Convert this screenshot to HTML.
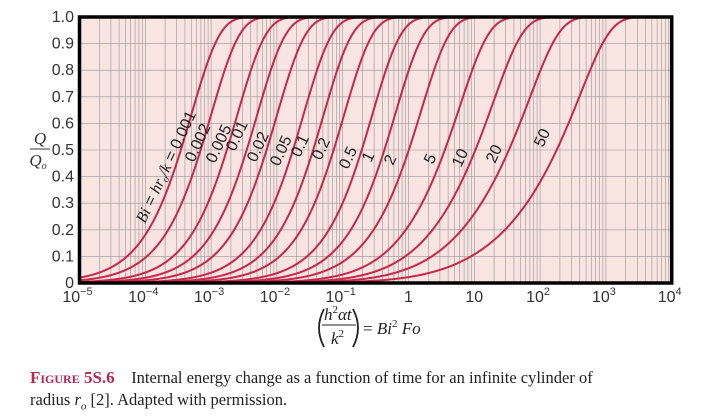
<!DOCTYPE html>
<html><head><meta charset="utf-8"><style>
body{margin:0;background:#fff;width:706px;height:419px;overflow:hidden;position:relative;font-family:"Liberation Serif",serif;}
.cap{position:absolute;left:30px;font-size:16.5px;color:#222;white-space:nowrap;}
.fig{color:#b8274f;font-weight:bold;font-variant:small-caps;font-size:17px;}
</style></head><body>
<svg id="s" width="706" height="419" style="position:absolute;left:0;top:0" xmlns="http://www.w3.org/2000/svg">
<defs><clipPath id="c"><rect x="79.5" y="17" width="592.2" height="266"/></clipPath></defs>
<rect x="79.5" y="17" width="592.2" height="266" fill="#f8e4e1"/>
<g id="grid" stroke="#9c9696" stroke-width="0.6"></g>
<g id="curves" clip-path="url(#c)" fill="none" stroke="#c8264c" stroke-width="2"></g>
<rect x="79.5" y="17" width="592.2" height="266" fill="none" stroke="#000" stroke-width="3.5"/>
<g id="ylab" font-family="Liberation Sans,sans-serif" font-size="16" fill="#333" text-anchor="end"></g>
<g id="xlab" font-family="Liberation Sans,sans-serif" font-size="16" fill="#333" text-anchor="middle"></g>
<g id="clab" font-family="Liberation Sans,sans-serif" font-size="16" fill="#222"></g>
<g font-family="Liberation Serif,serif" font-style="italic" font-size="17" fill="#333" text-anchor="middle">
<text x="40" y="144">Q</text><line x1="30" y1="149" x2="50" y2="149" stroke="#333" stroke-width="1"/><text x="38" y="166">Q<tspan font-size="10" dy="3">o</tspan></text>
</g>
<g font-family="Liberation Serif,serif" font-size="17" fill="#222">
<path d="M324 309 Q314 328 324 347" fill="none" stroke="#222" stroke-width="1.8"/>
<path d="M353 309 Q363 328 353 347" fill="none" stroke="#222" stroke-width="1.8"/>
<text x="324" y="320" font-style="italic">h<tspan font-size="11" dy="-7" font-style="normal">2</tspan><tspan dy="7">αt</tspan></text>
<line x1="322" y1="325" x2="356" y2="325" stroke="#222" stroke-width="1"/>
<text x="331" y="344" font-style="italic">k<tspan font-size="11" dy="-7" font-style="normal">2</tspan></text>
<text x="363" y="334">= <tspan font-style="italic">Bi</tspan><tspan font-size="11" dy="-7">2</tspan><tspan dy="7" font-style="italic"> Fo</tspan></text>
</g>
</svg>
<div class="cap" style="top:368px"><span class="fig">Figure 5S.6</span>&nbsp;&nbsp;&nbsp; Internal energy change as a function of time for an infinite cylinder of</div>
<div class="cap" style="top:390px">radius <i>r<sub style="font-size:11px">o</sub></i> [2]. Adapted with permission.</div>
<script>
var NS="http://www.w3.org/2000/svg";
var X0=79.5,DX=65.8,Y0=283,YS=266;
function px(l){return X0+(l+5)*DX;}
function el(g,t,a,txt){var e=document.createElementNS(NS,t);for(var k in a)e.setAttribute(k,a[k]);if(txt!=null)e.textContent=txt;document.getElementById(g).appendChild(e);return e;}
for(var d=-5;d<4;d++)for(var m=2;m<10;m++){var x=px(d+Math.log10(m));el("grid","line",{x1:x,y1:17,x2:x,y2:283});}
for(var d=-4;d<4;d++){var x=px(d);el("grid","line",{x1:x,y1:17,x2:x,y2:283});}
for(var i=1;i<10;i++){var y=Y0-i*YS/10;el("grid","line",{x1:79.5,y1:y,x2:671.7,y2:y});}
for(var i=0;i<=10;i++){var y=Y0-i*YS/10;el("ylab","text",{x:74,y:y+5},i==0?"0":(i/10).toFixed(1));}
var xl=["10|−5","10|−4","10|−3","10|−2","10|−1","1","10","10|2","10|3","10|4"];
xl.forEach(function(s,i){var x=px(i-5);var t=el("xlab","text",{x:x,y:302});var p=s.split("|");t.textContent=p[0];if(p[1]){var ts=document.createElementNS(NS,"tspan");ts.setAttribute("font-size","11");ts.setAttribute("dy","-7");ts.textContent=p[1];t.appendChild(ts);t.setAttribute("x",x-2);}});
function J0(x){var ax=Math.abs(x),y,a1,a2;if(ax<8){y=x*x;a1=57568490574.0+y*(-13362590354.0+y*(651619640.7+y*(-11214424.18+y*(77392.33017+y*(-184.9052456)))));a2=57568490411.0+y*(1029532985.0+y*(9494680.718+y*(59272.64853+y*(267.8532712+y*1.0))));return a1/a2;}var z=8/ax;y=z*z;var xx=ax-0.785398164;a1=1.0+y*(-0.1098628627e-2+y*(0.2734510407e-4+y*(-0.2073370639e-5+y*0.2093887211e-6)));a2=-0.1562499995e-1+y*(0.1430488765e-3+y*(-0.6911147651e-5+y*(0.7621095161e-6-y*0.934935152e-7)));return Math.sqrt(0.636619772/ax)*(Math.cos(xx)*a1-z*Math.sin(xx)*a2);}
function J1(x){var ax=Math.abs(x),y,a1,a2,r;if(ax<8){y=x*x;a1=x*(72362614232.0+y*(-7895059235.0+y*(242396853.1+y*(-2972611.439+y*(15704.48260+y*(-30.16036606))))));a2=144725228442.0+y*(2300535178.0+y*(18583304.74+y*(99447.43394+y*(376.9991397+y*1.0))));return a1/a2;}var z=8/ax;y=z*z;var xx=ax-2.356194491;a1=1.0+y*(0.183105e-2+y*(-0.3516396496e-4+y*(0.2457520174e-5+y*(-0.240337019e-6))));a2=0.04687499995+y*(-0.2002690873e-3+y*(0.8449199096e-5+y*(-0.88228987e-6+y*0.105787412e-6)));r=Math.sqrt(0.636619772/ax)*(Math.cos(xx)*a1-z*Math.sin(xx)*a2);return x<0?-r:r;}
function bis(f,a,b){var fa=f(a);for(var i=0;i<60;i++){var m=(a+b)/2,fm=f(m);if((fm<0)==(fa<0)){a=m;fa=fm;}else b=m;}return (a+b)/2;}
var N=400,jz=[0];for(var n=1;n<=N;n++){var g=(n-0.25)*Math.PI;jz.push(bis(J0,g-0.3,g+0.3));}
var Bis=[0.001,0.002,0.005,0.01,0.02,0.05,0.1,0.2,0.5,1,2,5,10,20,50];
Bis.forEach(function(Bi){var zs=[],cs=[];for(var n=1;n<=N;n++){var z=bis(function(t){return t*J1(t)-Bi*J0(t);},jz[n-1]+1e-9,jz[n]-1e-9);zs.push(z);cs.push(4*Bi*Bi/(z*z*(z*z+Bi*Bi)));}
var d="";for(var x=X0-2;x<=672;x+=1){var l=(x-X0)/DX-5,X=Math.pow(10,l),Fo=X/(Bi*Bi),s=0;for(var k=0;k<N;k++){var e=zs[k]*zs[k]*Fo;if(e>60)break;s+=cs[k]*Math.exp(-e);}var q=Math.max(0,Math.min(1,1-s));d+=(d?"L":"M")+x.toFixed(1)+" "+(Y0-q*YS).toFixed(2);}
el("curves","path",{d:d});});
var labs=[["0.002",194,163],["0.005",215,164],["0.01",235,152],["0.02",256,163],["0.05",279,167],["0.1",300,158],["0.2",321,161],["0.5",348,170],["1",371,163],["2",393,166],["5",433,165],["10",461,168],["20",495,164],["50",543,148]];
labs.forEach(function(a){el("clab","text",{x:a[1],y:a[2],transform:"rotate(-65 "+a[1]+" "+a[2]+")"},a[0]);});
var t=el("clab","text",{x:145,y:224,transform:"rotate(-65 145 224)"});
t.innerHTML='<tspan font-family="Liberation Serif,serif" font-style="italic" font-size="16">Bi</tspan> = <tspan font-family="Liberation Serif,serif" font-style="italic" font-size="16">hr</tspan><tspan font-family="Liberation Serif,serif" font-style="italic" font-size="10" dy="3">o</tspan><tspan dy="-3" font-family="Liberation Serif,serif" font-style="italic" font-size="16">/k</tspan> = 0.001';
</script>
</body></html>
